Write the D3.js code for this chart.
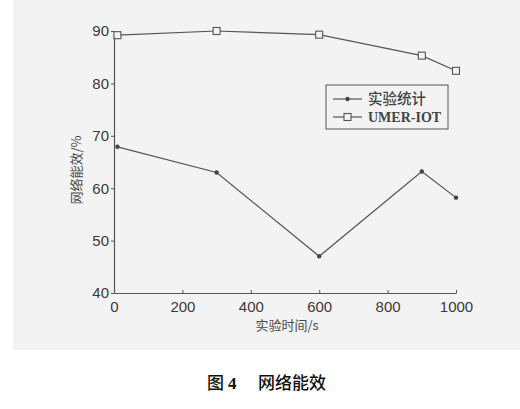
<!DOCTYPE html>
<html><head><meta charset="utf-8">
<script src="https://cdn.jsdelivr.net/npm/d3@7"></script>
<style>body{margin:0;background:#fff}svg{display:block}</style>
</head><body>
<svg id="c" width="520" height="409"></svg>
<script>
const times = [10, 300, 600, 900, 1000];
const seriesNames = ["实验统计", "UMER-IOT"];
const statValues = [67.9, 63.0, 47.0, 63.2, 58.2];
const umerValues = [89.2, 90.0, 89.3, 85.3, 82.4];
const xTicks = [0, 200, 400, 600, 800, 1000];
const yTicks = [40, 50, 60, 70, 80, 90];

const svg = d3.select("#c");
const bg = "#f3f3f3";
svg.append("rect").attr("x",13).attr("y",0).attr("width",507).attr("height",350).attr("fill",bg);

const x = d3.scaleLinear().domain([0,1000]).range([114,456]);
const y = d3.scaleLinear().domain([40,90]).range([293,31]);
const col = "#555";
const tickFont = "'Liberation Sans', Arial, sans-serif";

const gx = svg.append("g").attr("transform","translate(0,293)")
  .call(d3.axisBottom(x).tickValues(xTicks).tickFormat(d3.format("d")).tickSizeInner(-3).tickSizeOuter(0).tickPadding(8));
gx.select(".domain").attr("stroke",col).attr("stroke-width",1.2);
gx.selectAll(".tick line").attr("stroke",col);
gx.selectAll(".tick text").attr("fill","#3a3a3a").style("font-family",tickFont).style("font-size","15px");

const gy = svg.append("g").attr("transform","translate(114,0)")
  .call(d3.axisLeft(y).tickValues(yTicks).tickFormat(d3.format("d")).tickSizeInner(3).tickSizeOuter(0).tickPadding(2));
gy.select(".domain").attr("stroke",col).attr("stroke-width",1.2);
gy.selectAll(".tick line").attr("stroke",col);
gy.selectAll(".tick text").attr("fill","#3a3a3a").style("font-family",tickFont).style("font-size","15px");

const line = d3.line().x(d=>x(d[0])).y(d=>y(d[1]));
const statData = times.map((t,i)=>[t,statValues[i]]);
const umerData = times.map((t,i)=>[t,umerValues[i]]);

svg.append("path").datum(umerData).attr("d",line).attr("fill","none").attr("stroke",col).attr("stroke-width",1.2);
svg.append("path").datum(statData).attr("d",line).attr("fill","none").attr("stroke",col).attr("stroke-width",1.2);

svg.selectAll(".sq").data(umerData).enter().append("rect")
  .attr("x",d=>x(d[0])-3.5).attr("y",d=>y(d[1])-3.5).attr("width",7).attr("height",7)
  .attr("fill",bg).attr("stroke",col).attr("stroke-width",1.1);
svg.selectAll(".dt").data(statData).enter().append("circle")
  .attr("cx",d=>x(d[0])).attr("cy",d=>y(d[1])).attr("r",2.2).attr("fill","#444");

// legend
const lg = svg.append("g");
lg.append("rect").attr("x",326).attr("y",85).attr("width",122).attr("height",44)
  .attr("fill",bg).attr("stroke",col).attr("stroke-width",1);
[[99,0],[117,1]].forEach(([ly,i])=>{
  lg.append("line").attr("x1",333).attr("x2",362).attr("y1",ly).attr("y2",ly).attr("stroke",col).attr("stroke-width",1.2);
  if(i===0) lg.append("circle").attr("cx",347.5).attr("cy",ly).attr("r",2.2).attr("fill","#444");
  else lg.append("rect").attr("x",344).attr("y",ly-3.5).attr("width",7).attr("height",7).attr("fill",bg).attr("stroke",col).attr("stroke-width",1.1);
  lg.append("text").attr("x",368).attr("y",ly).attr("dy","0.36em")
    .attr("fill","#444")
    .style("font-family", i===0 ? "'Noto Sans CJK SC', sans-serif" : "'Liberation Serif', 'Times New Roman', serif")
    .style("font-weight", i===0 ? "500" : "bold")
    .style("font-size", i===0 ? "14.5px" : "14px")
    .text(seriesNames[i]);
});

// axis titles
svg.append("text").attr("x",287).attr("y",325).attr("dy","0.36em").attr("text-anchor","middle")
  .attr("fill","#4a4a4a").style("font-family","'Noto Sans CJK SC', sans-serif").style("font-size","13px")
  .text("实验时间/s");
svg.append("text").attr("transform","translate(76,170) rotate(-90)").attr("dy","0.36em").attr("text-anchor","middle")
  .attr("fill","#4a4a4a").style("font-family","'Noto Sans CJK SC', sans-serif").style("font-size","13px")
  .text("网络能效/%");

// caption
const cap = svg.append("text").attr("x",207).attr("y",383).attr("dy","0.36em").attr("fill","#111")
  .style("font-size","17px");
cap.append("tspan").style("font-family","'Noto Sans CJK SC', sans-serif").style("font-weight","500").text("图");
cap.append("tspan").attr("dx",4).style("font-family","'Liberation Serif', serif").style("font-weight","bold").text("4");
cap.append("tspan").attr("x",258).style("font-family","'Noto Sans CJK SC', sans-serif").style("font-weight","500").text("网络能效");
</script>
</body></html>
